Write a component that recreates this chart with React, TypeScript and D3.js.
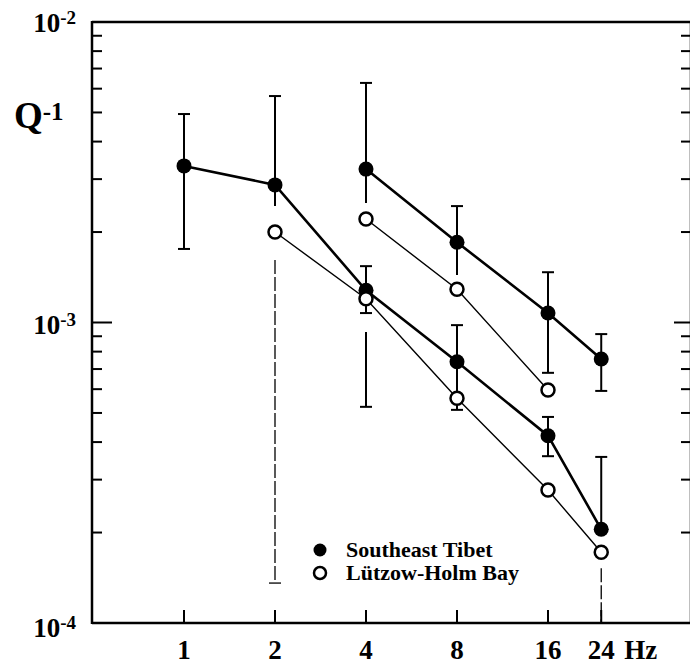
import * as d3 from 'd3';

// frequencies (Hz) and Q^-1 values
const tickFreqs = [1, 2, 4, 8, 16, 24];
const yDecades = [1e-4, 1e-3, 1e-2];
const yDecadeLabels = ['-4', '-3', '-2'];

const tibetLowFreq = [1, 2, 4, 8, 16, 24];
const tibetLowQ = [3.32e-3, 2.87e-3, 1.28e-3, 7.4e-4, 4.2e-4, 2.05e-4];
const tibetHighFreq = [4, 8, 16, 24];
const tibetHighQ = [3.24e-3, 1.85e-3, 1.075e-3, 7.56e-4];
const lutzowLowFreq = [2, 4, 8, 16, 24];
const lutzowLowQ = [2.0e-3, 1.2e-3, 5.6e-4, 2.77e-4, 1.72e-4];
const lutzowHighFreq = [4, 8, 16];
const lutzowHighQ = [2.21e-3, 1.29e-3, 5.96e-4];

// error bars: frequency, upper, lower, which ends get a cap, dashed or not
const errFreq = [1, 2, 2, 4, 4, 4, 8, 8, 16, 16, 24, 24, 24];
const errHigh = [4.94e-3, 5.67e-3, 1.615e-3, 6.27e-3, 1.54e-3, 9.3e-4, 2.44e-3, 9.8e-4, 1.47e-3, 4.85e-4, 9.15e-4, 3.57e-4, 1.52e-4];
const errLow = [1.757e-3, 2.44e-3, 1.358e-4, 2.5e-3, 1.075e-3, 5.24e-4, 1.44e-3, 5.12e-4, 6.8e-4, 3.59e-4, 5.92e-4, 2.05e-4, 1e-4];
const errCap = ['both', 'top', 'bottom', 'top', 'both', 'bottom', 'top', 'both', 'both', 'both', 'both', 'top', 'none'];
const errDashed = [false, false, true, false, false, false, false, false, false, false, false, false, true];

const W = 690;
const H = 666;
const left = 92;
const right = 691;
const top = 22;
const bottom = 623;
const font = '"Liberation Serif", "Times New Roman", serif';

export default function App() {
  const x = d3.scaleLog().base(2).domain([1, 16]).range([184, 548]);
  const y = d3.scaleLog().domain([1e-4, 1e-2]).range([bottom, top]);

  const line = d3
    .line<[number, number]>()
    .x(d => x(d[0]))
    .y(d => y(d[1]));

  const zip = (f: number[], q: number[]) => f.map((v, i) => [v, q[i]] as [number, number]);

  // minor ticks 2..9 in each decade
  const minor: number[] = [];
  [1e-4, 1e-3].forEach(d => {
    for (let k = 2; k <= 9; k++) minor.push(d * k);
  });

  const series = [
    { pts: zip(tibetLowFreq, tibetLowQ), filled: true },
    { pts: zip(tibetHighFreq, tibetHighQ), filled: true },
    { pts: zip(lutzowLowFreq, lutzowLowQ), filled: false },
    { pts: zip(lutzowHighFreq, lutzowHighQ), filled: false },
  ];

  return (
    <svg width={W} height={H} style={{ position: 'absolute', left: 0, top: 0, background: '#fff' }}>
      {/* frame */}
      <g stroke="#000" strokeWidth={2.5} fill="none">
        <line x1={left} x2={left} y1={top - 1} y2={bottom + 1} />
        <line x1={left} x2={right} y1={top} y2={top} />
        <line x1={left} x2={right} y1={bottom} y2={bottom} />
        <line x1={right} x2={right} y1={top} y2={bottom} />
      </g>

      {/* y ticks */}
      <g stroke="#000" strokeWidth={2}>
        {minor.map(v => (
          <g key={v}>
            <line x1={left} x2={left + 10} y1={y(v)} y2={y(v)} />
            <line x1={right - 10} x2={right} y1={y(v)} y2={y(v)} />
          </g>
        ))}
        <line x1={left} x2={left + 20} y1={y(1e-3)} y2={y(1e-3)} />
        <line x1={right - 17} x2={right} y1={y(1e-3)} y2={y(1e-3)} />
      </g>

      {/* x ticks */}
      <g stroke="#000" strokeWidth={2}>
        {tickFreqs.map(f => (
          <line key={f} x1={x(f)} x2={x(f)} y1={bottom} y2={bottom - 13} />
        ))}
      </g>

      {/* x labels */}
      <g fontFamily={font} fontWeight="bold" fontSize={27} textAnchor="middle">
        {tickFreqs.map(f => (
          <text key={f} x={x(f)} y={659}>
            {f}
          </text>
        ))}
        <text x={x(24) + 23} y={659} textAnchor="start">
          Hz
        </text>
      </g>

      {/* y labels */}
      <g fontFamily={font} fontWeight="bold" fontSize={27} textAnchor="end">
        {yDecades.map((v, i) => (
          <text key={v} x={76} y={y(v) + (i === 2 ? 10 : i === 1 ? 11 : 14)}>
            10
            <tspan fontSize={19} dy={-8}>
              {yDecadeLabels[i]}
            </tspan>
          </text>
        ))}
      </g>
      <text x={14} y={128} fontFamily={font} fontWeight="bold" fontSize={37}>
        Q
        <tspan fontSize={25} dy={-8}>
          -1
        </tspan>
      </text>

      {/* connecting lines */}
      {series.map((s, i) => (
        <path key={i} d={line(s.pts) || ''} fill="none" stroke="#000" strokeWidth={s.filled ? 2.6 : 1.4} />
      ))}

      {/* error bars */}
      <g stroke="#000">
        {errFreq.map((f, i) => {
          const cx = x(f);
          const y1 = y(errHigh[i]);
          const y2 = y(errLow[i]);
          const sw = errDashed[i] ? 1.3 : 2;
          return (
            <g key={i} strokeWidth={sw}>
              <line x1={cx} x2={cx} y1={y1} y2={y2} strokeDasharray={errDashed[i] ? '14 3' : undefined} />
              {(errCap[i] === 'both' || errCap[i] === 'top') && <line x1={cx - 6} x2={cx + 6} y1={y1} y2={y1} />}
              {(errCap[i] === 'both' || errCap[i] === 'bottom') && <line x1={cx - 6} x2={cx + 6} y1={y2} y2={y2} />}
            </g>
          );
        })}
      </g>

      {/* markers */}
      {series.map((s, i) => (
        <g key={i}>
          {s.pts.map(p =>
            s.filled ? (
              <circle key={p[0]} cx={x(p[0])} cy={y(p[1])} r={7.5} fill="#000" />
            ) : (
              <circle key={p[0]} cx={x(p[0])} cy={y(p[1])} r={6.5} fill="#fff" stroke="#000" strokeWidth={2.5} />
            )
          )}
        </g>
      ))}

      {/* legend */}
      <g fontFamily={font} fontWeight="bold" fontSize={22}>
        <circle cx={320} cy={550} r={6.5} fill="#000" />
        <text x={346} y={557}>
          Southeast Tibet
        </text>
        <circle cx={320} cy={573} r={6} fill="#fff" stroke="#000" strokeWidth={2.5} />
        <text x={346} y={580}>
          Lützow-Holm Bay
        </text>
      </g>
    </svg>
  );
}
